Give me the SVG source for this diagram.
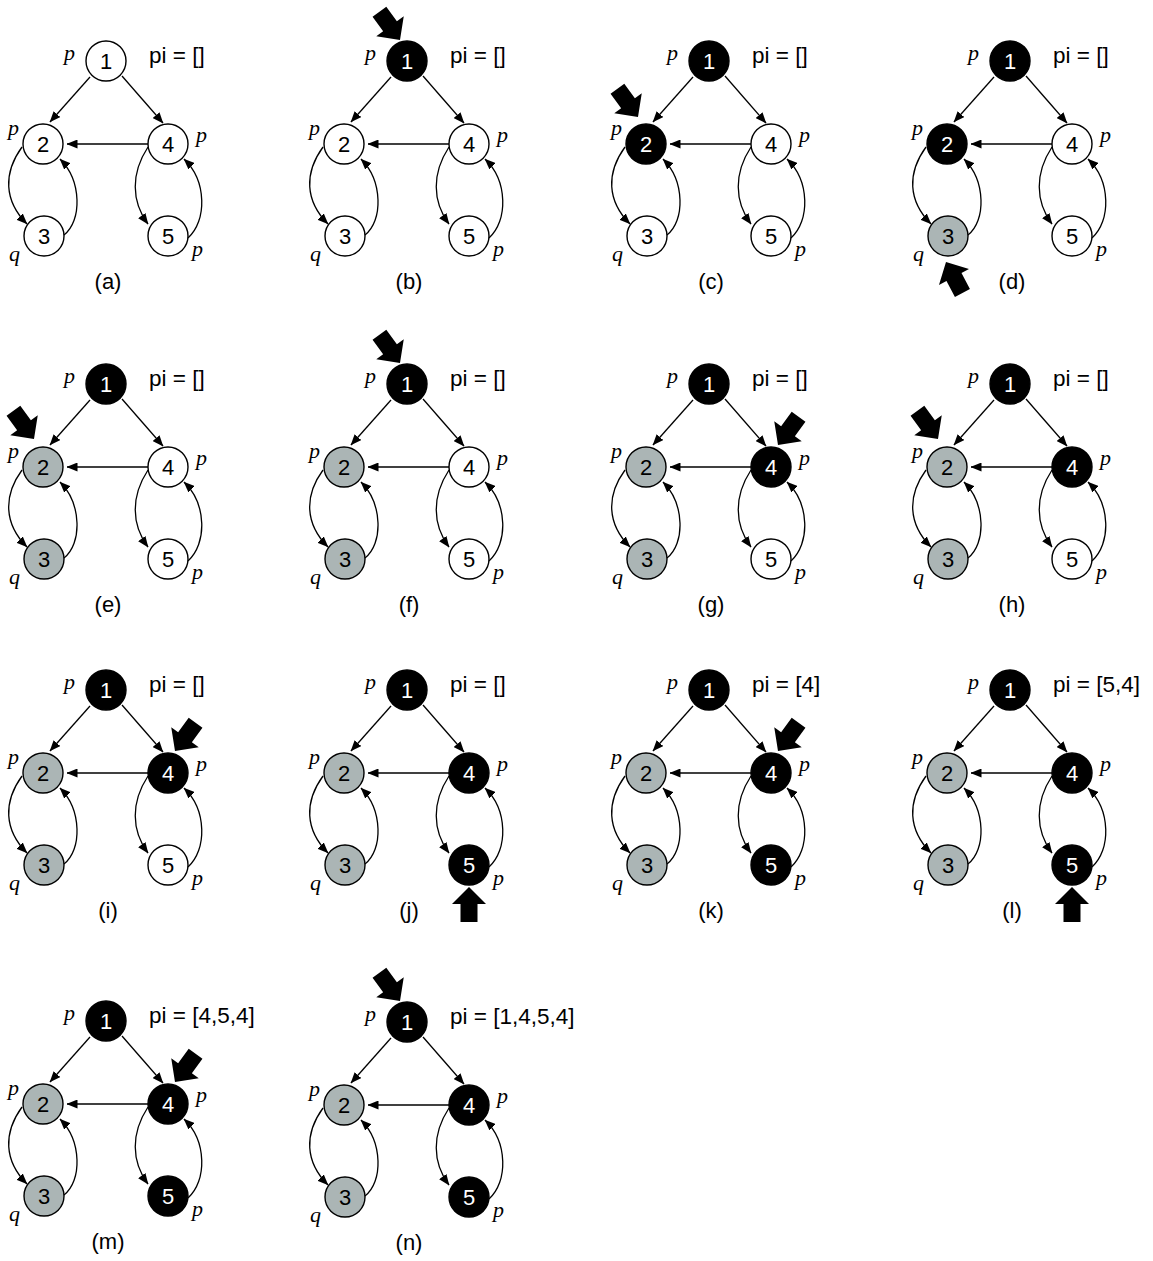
<svg xmlns="http://www.w3.org/2000/svg" xmlns:xlink="http://www.w3.org/1999/xlink" width="1153" height="1261" viewBox="0 0 1153 1261">
<style>
.w{fill:#fff;stroke:#000;stroke-width:1.4}
.k{fill:#000;stroke:#000;stroke-width:1.4}
.g{fill:#abb5b5;stroke:#000;stroke-width:1.4}
.num{font-family:"Liberation Sans",Arial,sans-serif;font-size:22px;text-anchor:middle;fill:#000}
.nk{fill:#fff}
.lab{font-family:"Liberation Serif","Times New Roman",serif;font-style:italic;font-size:22px;fill:#000}
.pi{font-family:"Liberation Sans",Arial,sans-serif;font-size:22.5px;fill:#000}
.cap{font-family:"Liberation Sans",Arial,sans-serif;font-size:22px;text-anchor:middle;fill:#000}
.e{fill:none;stroke:#000;stroke-width:1.3;marker-end:url(#ah)}
.ptr{fill:#000}
</style>
<defs>
<marker id="ah" markerUnits="userSpaceOnUse" markerWidth="11" markerHeight="9" viewBox="0 0 11 9" refX="10.5" refY="4.5" orient="auto"><path d="M0,0 L11,4.5 L0,9 z" fill="#000"/></marker>
<polygon id="ptr" class="ptr" points="0,0 -17,-17 -17,-8.5 -35,-8.5 -35,8.5 -17,8.5 -17,17"/>
</defs>

<!-- Panel a -->
<g id="panel-a" transform="translate(106,61)">
<g id="a-edges"><path class="e" d="M-16,16 L-56,61"/><path class="e" d="M16,15 L57,62"/><path class="e" d="M42,83 L-39,83"/><path class="e" d="M-84,86 C-103,112 -102,140 -79,163"/><path class="e" d="M-42,174 C-24,160 -24,120 -46,98"/><path class="e" d="M42,86 C25,112 25,140 42,163"/><path class="e" d="M82,177 C101,160 101,120 78,98"/></g>
<g id="a-n1"><circle class="w" r="20"/><text class="num" y="8">1</text></g>
<g id="a-n2" transform="translate(-63,83)"><circle class="w" r="20"/><text class="num" y="8">2</text></g>
<g id="a-n4" transform="translate(62,83)"><circle class="w" r="20"/><text class="num" y="8">4</text></g>
<g id="a-n3" transform="translate(-62,175)"><circle class="w" r="20"/><text class="num" y="8">3</text></g>
<g id="a-n5" transform="translate(62,175)"><circle class="w" r="20"/><text class="num" y="8">5</text></g>
<text class="lab" x="-42" y="-1">p</text><text class="lab" x="-98" y="74">p</text><text class="lab" x="90" y="81">p</text><text class="lab" x="-97" y="200">q</text><text class="lab" x="86" y="195">p</text>
<text class="pi" x="43" y="2">pi = []</text>
<text class="cap" x="2" y="228">(a)</text>
</g>

<!-- Panel b -->
<g id="panel-b" transform="translate(407,61)">
<g id="b-edges"><path class="e" d="M-16,16 L-56,61"/><path class="e" d="M16,15 L57,62"/><path class="e" d="M42,83 L-39,83"/><path class="e" d="M-84,86 C-103,112 -102,140 -79,163"/><path class="e" d="M-42,174 C-24,160 -24,120 -46,98"/><path class="e" d="M42,86 C25,112 25,140 42,163"/><path class="e" d="M82,177 C101,160 101,120 78,98"/></g>
<g id="b-n1"><circle class="k" r="20"/><text class="num nk" y="8">1</text></g>
<g id="b-n2" transform="translate(-63,83)"><circle class="w" r="20"/><text class="num" y="8">2</text></g>
<g id="b-n4" transform="translate(62,83)"><circle class="w" r="20"/><text class="num" y="8">4</text></g>
<g id="b-n3" transform="translate(-62,175)"><circle class="w" r="20"/><text class="num" y="8">3</text></g>
<g id="b-n5" transform="translate(62,175)"><circle class="w" r="20"/><text class="num" y="8">5</text></g>
<text class="lab" x="-42" y="-1">p</text><text class="lab" x="-98" y="74">p</text><text class="lab" x="90" y="81">p</text><text class="lab" x="-97" y="200">q</text><text class="lab" x="86" y="195">p</text>
<text class="pi" x="43" y="2">pi = []</text>
<text class="cap" x="2" y="228">(b)</text>
<use xlink:href="#ptr" transform="translate(-7,-21) rotate(54)"/>
</g>

<!-- Panel c -->
<g id="panel-c" transform="translate(709,61)">
<g id="c-edges"><path class="e" d="M-16,16 L-56,61"/><path class="e" d="M16,15 L57,62"/><path class="e" d="M42,83 L-39,83"/><path class="e" d="M-84,86 C-103,112 -102,140 -79,163"/><path class="e" d="M-42,174 C-24,160 -24,120 -46,98"/><path class="e" d="M42,86 C25,112 25,140 42,163"/><path class="e" d="M82,177 C101,160 101,120 78,98"/></g>
<g id="c-n1"><circle class="k" r="20"/><text class="num nk" y="8">1</text></g>
<g id="c-n2" transform="translate(-63,83)"><circle class="k" r="20"/><text class="num nk" y="8">2</text></g>
<g id="c-n4" transform="translate(62,83)"><circle class="w" r="20"/><text class="num" y="8">4</text></g>
<g id="c-n3" transform="translate(-62,175)"><circle class="w" r="20"/><text class="num" y="8">3</text></g>
<g id="c-n5" transform="translate(62,175)"><circle class="w" r="20"/><text class="num" y="8">5</text></g>
<text class="lab" x="-42" y="-1">p</text><text class="lab" x="-98" y="74">p</text><text class="lab" x="90" y="81">p</text><text class="lab" x="-97" y="200">q</text><text class="lab" x="86" y="195">p</text>
<text class="pi" x="43" y="2">pi = []</text>
<text class="cap" x="2" y="228">(c)</text>
<use xlink:href="#ptr" transform="translate(-71,56) rotate(54)"/>
</g>

<!-- Panel d -->
<g id="panel-d" transform="translate(1010,61)">
<g id="d-edges"><path class="e" d="M-16,16 L-56,61"/><path class="e" d="M16,15 L57,62"/><path class="e" d="M42,83 L-39,83"/><path class="e" d="M-84,86 C-103,112 -102,140 -79,163"/><path class="e" d="M-42,174 C-24,160 -24,120 -46,98"/><path class="e" d="M42,86 C25,112 25,140 42,163"/><path class="e" d="M82,177 C101,160 101,120 78,98"/></g>
<g id="d-n1"><circle class="k" r="20"/><text class="num nk" y="8">1</text></g>
<g id="d-n2" transform="translate(-63,83)"><circle class="k" r="20"/><text class="num nk" y="8">2</text></g>
<g id="d-n4" transform="translate(62,83)"><circle class="w" r="20"/><text class="num" y="8">4</text></g>
<g id="d-n3" transform="translate(-62,175)"><circle class="g" r="20"/><text class="num" y="8">3</text></g>
<g id="d-n5" transform="translate(62,175)"><circle class="w" r="20"/><text class="num" y="8">5</text></g>
<text class="lab" x="-42" y="-1">p</text><text class="lab" x="-98" y="74">p</text><text class="lab" x="90" y="81">p</text><text class="lab" x="-97" y="200">q</text><text class="lab" x="86" y="195">p</text>
<text class="pi" x="43" y="2">pi = []</text>
<text class="cap" x="2" y="228">(d)</text>
<use xlink:href="#ptr" transform="translate(-64,201) rotate(-118)"/>
</g>

<!-- Panel e -->
<g id="panel-e" transform="translate(106,384)">
<g id="e-edges"><path class="e" d="M-16,16 L-56,61"/><path class="e" d="M16,15 L57,62"/><path class="e" d="M42,83 L-39,83"/><path class="e" d="M-84,86 C-103,112 -102,140 -79,163"/><path class="e" d="M-42,174 C-24,160 -24,120 -46,98"/><path class="e" d="M42,86 C25,112 25,140 42,163"/><path class="e" d="M82,177 C101,160 101,120 78,98"/></g>
<g id="e-n1"><circle class="k" r="20"/><text class="num nk" y="8">1</text></g>
<g id="e-n2" transform="translate(-63,83)"><circle class="g" r="20"/><text class="num" y="8">2</text></g>
<g id="e-n4" transform="translate(62,83)"><circle class="w" r="20"/><text class="num" y="8">4</text></g>
<g id="e-n3" transform="translate(-62,175)"><circle class="g" r="20"/><text class="num" y="8">3</text></g>
<g id="e-n5" transform="translate(62,175)"><circle class="w" r="20"/><text class="num" y="8">5</text></g>
<text class="lab" x="-42" y="-1">p</text><text class="lab" x="-98" y="74">p</text><text class="lab" x="90" y="81">p</text><text class="lab" x="-97" y="200">q</text><text class="lab" x="86" y="195">p</text>
<text class="pi" x="43" y="2">pi = []</text>
<text class="cap" x="2" y="228">(e)</text>
<use xlink:href="#ptr" transform="translate(-72,55) rotate(54)"/>
</g>

<!-- Panel f -->
<g id="panel-f" transform="translate(407,384)">
<g id="f-edges"><path class="e" d="M-16,16 L-56,61"/><path class="e" d="M16,15 L57,62"/><path class="e" d="M42,83 L-39,83"/><path class="e" d="M-84,86 C-103,112 -102,140 -79,163"/><path class="e" d="M-42,174 C-24,160 -24,120 -46,98"/><path class="e" d="M42,86 C25,112 25,140 42,163"/><path class="e" d="M82,177 C101,160 101,120 78,98"/></g>
<g id="f-n1"><circle class="k" r="20"/><text class="num nk" y="8">1</text></g>
<g id="f-n2" transform="translate(-63,83)"><circle class="g" r="20"/><text class="num" y="8">2</text></g>
<g id="f-n4" transform="translate(62,83)"><circle class="w" r="20"/><text class="num" y="8">4</text></g>
<g id="f-n3" transform="translate(-62,175)"><circle class="g" r="20"/><text class="num" y="8">3</text></g>
<g id="f-n5" transform="translate(62,175)"><circle class="w" r="20"/><text class="num" y="8">5</text></g>
<text class="lab" x="-42" y="-1">p</text><text class="lab" x="-98" y="74">p</text><text class="lab" x="90" y="81">p</text><text class="lab" x="-97" y="200">q</text><text class="lab" x="86" y="195">p</text>
<text class="pi" x="43" y="2">pi = []</text>
<text class="cap" x="2" y="228">(f)</text>
<use xlink:href="#ptr" transform="translate(-7,-21) rotate(54)"/>
</g>

<!-- Panel g -->
<g id="panel-g" transform="translate(709,384)">
<g id="g-edges"><path class="e" d="M-16,16 L-56,61"/><path class="e" d="M16,15 L57,62"/><path class="e" d="M42,83 L-39,83"/><path class="e" d="M-84,86 C-103,112 -102,140 -79,163"/><path class="e" d="M-42,174 C-24,160 -24,120 -46,98"/><path class="e" d="M42,86 C25,112 25,140 42,163"/><path class="e" d="M82,177 C101,160 101,120 78,98"/></g>
<g id="g-n1"><circle class="k" r="20"/><text class="num nk" y="8">1</text></g>
<g id="g-n2" transform="translate(-63,83)"><circle class="g" r="20"/><text class="num" y="8">2</text></g>
<g id="g-n4" transform="translate(62,83)"><circle class="k" r="20"/><text class="num nk" y="8">4</text></g>
<g id="g-n3" transform="translate(-62,175)"><circle class="g" r="20"/><text class="num" y="8">3</text></g>
<g id="g-n5" transform="translate(62,175)"><circle class="w" r="20"/><text class="num" y="8">5</text></g>
<text class="lab" x="-42" y="-1">p</text><text class="lab" x="-98" y="74">p</text><text class="lab" x="90" y="81">p</text><text class="lab" x="-97" y="200">q</text><text class="lab" x="86" y="195">p</text>
<text class="pi" x="43" y="2">pi = []</text>
<text class="cap" x="2" y="228">(g)</text>
<use xlink:href="#ptr" transform="translate(69,61) rotate(126)"/>
</g>

<!-- Panel h -->
<g id="panel-h" transform="translate(1010,384)">
<g id="h-edges"><path class="e" d="M-16,16 L-56,61"/><path class="e" d="M16,15 L57,62"/><path class="e" d="M42,83 L-39,83"/><path class="e" d="M-84,86 C-103,112 -102,140 -79,163"/><path class="e" d="M-42,174 C-24,160 -24,120 -46,98"/><path class="e" d="M42,86 C25,112 25,140 42,163"/><path class="e" d="M82,177 C101,160 101,120 78,98"/></g>
<g id="h-n1"><circle class="k" r="20"/><text class="num nk" y="8">1</text></g>
<g id="h-n2" transform="translate(-63,83)"><circle class="g" r="20"/><text class="num" y="8">2</text></g>
<g id="h-n4" transform="translate(62,83)"><circle class="k" r="20"/><text class="num nk" y="8">4</text></g>
<g id="h-n3" transform="translate(-62,175)"><circle class="g" r="20"/><text class="num" y="8">3</text></g>
<g id="h-n5" transform="translate(62,175)"><circle class="w" r="20"/><text class="num" y="8">5</text></g>
<text class="lab" x="-42" y="-1">p</text><text class="lab" x="-98" y="74">p</text><text class="lab" x="90" y="81">p</text><text class="lab" x="-97" y="200">q</text><text class="lab" x="86" y="195">p</text>
<text class="pi" x="43" y="2">pi = []</text>
<text class="cap" x="2" y="228">(h)</text>
<use xlink:href="#ptr" transform="translate(-72,55) rotate(54)"/>
</g>

<!-- Panel i -->
<g id="panel-i" transform="translate(106,690)">
<g id="i-edges"><path class="e" d="M-16,16 L-56,61"/><path class="e" d="M16,15 L57,62"/><path class="e" d="M42,83 L-39,83"/><path class="e" d="M-84,86 C-103,112 -102,140 -79,163"/><path class="e" d="M-42,174 C-24,160 -24,120 -46,98"/><path class="e" d="M42,86 C25,112 25,140 42,163"/><path class="e" d="M82,177 C101,160 101,120 78,98"/></g>
<g id="i-n1"><circle class="k" r="20"/><text class="num nk" y="8">1</text></g>
<g id="i-n2" transform="translate(-63,83)"><circle class="g" r="20"/><text class="num" y="8">2</text></g>
<g id="i-n4" transform="translate(62,83)"><circle class="k" r="20"/><text class="num nk" y="8">4</text></g>
<g id="i-n3" transform="translate(-62,175)"><circle class="g" r="20"/><text class="num" y="8">3</text></g>
<g id="i-n5" transform="translate(62,175)"><circle class="w" r="20"/><text class="num" y="8">5</text></g>
<text class="lab" x="-42" y="-1">p</text><text class="lab" x="-98" y="74">p</text><text class="lab" x="90" y="81">p</text><text class="lab" x="-97" y="200">q</text><text class="lab" x="86" y="195">p</text>
<text class="pi" x="43" y="2">pi = []</text>
<text class="cap" x="2" y="228">(i)</text>
<use xlink:href="#ptr" transform="translate(69,61) rotate(126)"/>
</g>

<!-- Panel j -->
<g id="panel-j" transform="translate(407,690)">
<g id="j-edges"><path class="e" d="M-16,16 L-56,61"/><path class="e" d="M16,15 L57,62"/><path class="e" d="M42,83 L-39,83"/><path class="e" d="M-84,86 C-103,112 -102,140 -79,163"/><path class="e" d="M-42,174 C-24,160 -24,120 -46,98"/><path class="e" d="M42,86 C25,112 25,140 42,163"/><path class="e" d="M82,177 C101,160 101,120 78,98"/></g>
<g id="j-n1"><circle class="k" r="20"/><text class="num nk" y="8">1</text></g>
<g id="j-n2" transform="translate(-63,83)"><circle class="g" r="20"/><text class="num" y="8">2</text></g>
<g id="j-n4" transform="translate(62,83)"><circle class="k" r="20"/><text class="num nk" y="8">4</text></g>
<g id="j-n3" transform="translate(-62,175)"><circle class="g" r="20"/><text class="num" y="8">3</text></g>
<g id="j-n5" transform="translate(62,175)"><circle class="k" r="20"/><text class="num nk" y="8">5</text></g>
<text class="lab" x="-42" y="-1">p</text><text class="lab" x="-98" y="74">p</text><text class="lab" x="90" y="81">p</text><text class="lab" x="-97" y="200">q</text><text class="lab" x="86" y="195">p</text>
<text class="pi" x="43" y="2">pi = []</text>
<text class="cap" x="2" y="228">(j)</text>
<use xlink:href="#ptr" transform="translate(62,197) rotate(-90)"/>
</g>

<!-- Panel k -->
<g id="panel-k" transform="translate(709,690)">
<g id="k-edges"><path class="e" d="M-16,16 L-56,61"/><path class="e" d="M16,15 L57,62"/><path class="e" d="M42,83 L-39,83"/><path class="e" d="M-84,86 C-103,112 -102,140 -79,163"/><path class="e" d="M-42,174 C-24,160 -24,120 -46,98"/><path class="e" d="M42,86 C25,112 25,140 42,163"/><path class="e" d="M82,177 C101,160 101,120 78,98"/></g>
<g id="k-n1"><circle class="k" r="20"/><text class="num nk" y="8">1</text></g>
<g id="k-n2" transform="translate(-63,83)"><circle class="g" r="20"/><text class="num" y="8">2</text></g>
<g id="k-n4" transform="translate(62,83)"><circle class="k" r="20"/><text class="num nk" y="8">4</text></g>
<g id="k-n3" transform="translate(-62,175)"><circle class="g" r="20"/><text class="num" y="8">3</text></g>
<g id="k-n5" transform="translate(62,175)"><circle class="k" r="20"/><text class="num nk" y="8">5</text></g>
<text class="lab" x="-42" y="-1">p</text><text class="lab" x="-98" y="74">p</text><text class="lab" x="90" y="81">p</text><text class="lab" x="-97" y="200">q</text><text class="lab" x="86" y="195">p</text>
<text class="pi" x="43" y="2">pi = [4]</text>
<text class="cap" x="2" y="228">(k)</text>
<use xlink:href="#ptr" transform="translate(69,61) rotate(126)"/>
</g>

<!-- Panel l -->
<g id="panel-l" transform="translate(1010,690)">
<g id="l-edges"><path class="e" d="M-16,16 L-56,61"/><path class="e" d="M16,15 L57,62"/><path class="e" d="M42,83 L-39,83"/><path class="e" d="M-84,86 C-103,112 -102,140 -79,163"/><path class="e" d="M-42,174 C-24,160 -24,120 -46,98"/><path class="e" d="M42,86 C25,112 25,140 42,163"/><path class="e" d="M82,177 C101,160 101,120 78,98"/></g>
<g id="l-n1"><circle class="k" r="20"/><text class="num nk" y="8">1</text></g>
<g id="l-n2" transform="translate(-63,83)"><circle class="g" r="20"/><text class="num" y="8">2</text></g>
<g id="l-n4" transform="translate(62,83)"><circle class="k" r="20"/><text class="num nk" y="8">4</text></g>
<g id="l-n3" transform="translate(-62,175)"><circle class="g" r="20"/><text class="num" y="8">3</text></g>
<g id="l-n5" transform="translate(62,175)"><circle class="k" r="20"/><text class="num nk" y="8">5</text></g>
<text class="lab" x="-42" y="-1">p</text><text class="lab" x="-98" y="74">p</text><text class="lab" x="90" y="81">p</text><text class="lab" x="-97" y="200">q</text><text class="lab" x="86" y="195">p</text>
<text class="pi" x="43" y="2">pi = [5,4]</text>
<text class="cap" x="2" y="228">(l)</text>
<use xlink:href="#ptr" transform="translate(62,197) rotate(-90)"/>
</g>

<!-- Panel m -->
<g id="panel-m" transform="translate(106,1021)">
<g id="m-edges"><path class="e" d="M-16,16 L-56,61"/><path class="e" d="M16,15 L57,62"/><path class="e" d="M42,83 L-39,83"/><path class="e" d="M-84,86 C-103,112 -102,140 -79,163"/><path class="e" d="M-42,174 C-24,160 -24,120 -46,98"/><path class="e" d="M42,86 C25,112 25,140 42,163"/><path class="e" d="M82,177 C101,160 101,120 78,98"/></g>
<g id="m-n1"><circle class="k" r="20"/><text class="num nk" y="8">1</text></g>
<g id="m-n2" transform="translate(-63,83)"><circle class="g" r="20"/><text class="num" y="8">2</text></g>
<g id="m-n4" transform="translate(62,83)"><circle class="k" r="20"/><text class="num nk" y="8">4</text></g>
<g id="m-n3" transform="translate(-62,175)"><circle class="g" r="20"/><text class="num" y="8">3</text></g>
<g id="m-n5" transform="translate(62,175)"><circle class="k" r="20"/><text class="num nk" y="8">5</text></g>
<text class="lab" x="-42" y="-1">p</text><text class="lab" x="-98" y="74">p</text><text class="lab" x="90" y="81">p</text><text class="lab" x="-97" y="200">q</text><text class="lab" x="86" y="195">p</text>
<text class="pi" x="43" y="2">pi = [4,5,4]</text>
<text class="cap" x="2" y="228">(m)</text>
<use xlink:href="#ptr" transform="translate(69,61) rotate(126)"/>
</g>

<!-- Panel n -->
<g id="panel-n" transform="translate(407,1022)">
<g id="n-edges"><path class="e" d="M-16,16 L-56,61"/><path class="e" d="M16,15 L57,62"/><path class="e" d="M42,83 L-39,83"/><path class="e" d="M-84,86 C-103,112 -102,140 -79,163"/><path class="e" d="M-42,174 C-24,160 -24,120 -46,98"/><path class="e" d="M42,86 C25,112 25,140 42,163"/><path class="e" d="M82,177 C101,160 101,120 78,98"/></g>
<g id="n-n1"><circle class="k" r="20"/><text class="num nk" y="8">1</text></g>
<g id="n-n2" transform="translate(-63,83)"><circle class="g" r="20"/><text class="num" y="8">2</text></g>
<g id="n-n4" transform="translate(62,83)"><circle class="k" r="20"/><text class="num nk" y="8">4</text></g>
<g id="n-n3" transform="translate(-62,175)"><circle class="g" r="20"/><text class="num" y="8">3</text></g>
<g id="n-n5" transform="translate(62,175)"><circle class="k" r="20"/><text class="num nk" y="8">5</text></g>
<text class="lab" x="-42" y="-1">p</text><text class="lab" x="-98" y="74">p</text><text class="lab" x="90" y="81">p</text><text class="lab" x="-97" y="200">q</text><text class="lab" x="86" y="195">p</text>
<text class="pi" x="43" y="2">pi = [1,4,5,4]</text>
<text class="cap" x="2" y="228">(n)</text>
<use xlink:href="#ptr" transform="translate(-7,-21) rotate(54)"/>
</g>
</svg>
